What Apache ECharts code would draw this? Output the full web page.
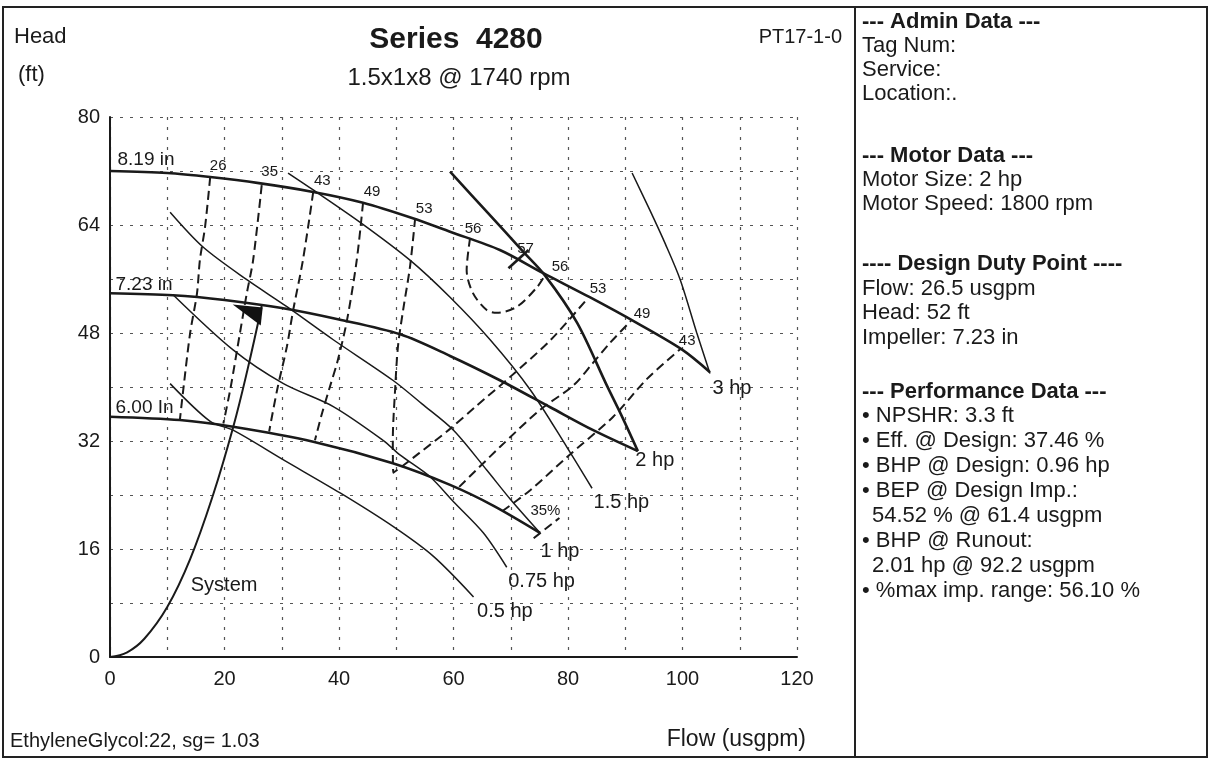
<!DOCTYPE html>
<html><head><meta charset="utf-8">
<script src="https://cdn.jsdelivr.net/npm/echarts@6/dist/echarts.min.js"></script>
<style>html,body{margin:0;padding:0;background:#fff}#c{width:1210px;height:761px}</style>
</head><body><div id="c"></div>
<script>
// ---- tick labels ----
const flowTickLabels = [0, 20, 40, 60, 80, 100, 120];
const headTickLabels = [0, 16, 32, 48, 64, 80];

// ---- impeller curves (flow usgpm, head ft) ----
const imp819 = [[0,72],[10,71.7],[17.5,71.1],[26,70.2],[35.5,68.9],[44.2,67.3],[52.9,65],[59.4,63],[68.1,60.3],[75.6,56.9],[83.8,53.3],[92,49.5],[100,45.5],[104.8,42.2]];
const imp723 = [[0,53.9],[11,53.6],[20,52.9],[30,51.7],[40,50],[50.7,47.8],[59.4,44.6],[68.1,41],[76.9,37],[84.4,33.6],[92.2,30.5]];
const imp600 = [[0,35.6],[12.2,35.1],[21.5,34.1],[35.5,31.9],[49.4,28.7],[59.4,25.5],[67,22.4],[75.1,18.4]];

// ---- system curve and design point ----
const systemCurve = [[0,0],[3,0.7],[6,2.7],[10,7.4],[14,14.5],[18,24],[21.5,34],[24,42.5],[26.5,52]];
const designPoint = [26.5, 52];

// ---- power (BHP) curves ----
const hp05 = [[10.5,40.5],[17.5,34.9],[21.5,33.6],[30.3,29.2],[40.2,24.3],[49.5,19.3],[56.5,14.9],[63.5,8.9]];
const hp075 = [[11.1,53.6],[21.5,45.5],[30.3,40.5],[39,37.1],[47.7,32.1],[50.7,29.9],[55.9,26.7],[60,23],[65.2,18.4],[69.3,13.3]];
const hp1 = [[10.5,65.9],[16.3,60.7],[23.9,55.9],[30.9,51.9],[39,47],[49.4,41],[54.5,37.5],[60,33.6],[65.8,27.7],[70,23.3],[75.1,18.4]];
const hp15 = [[31.1,71.7],[35.5,69.2],[43.7,64.4],[52.4,58.8],[59.4,53.3],[66.4,47],[73.4,39.6],[79.8,31.1],[84.2,25]];
const hp2 = [[59.4,71.9],[66,65.8],[72,60.2],[76,56.5],[81.6,49.5],[86.8,40.2],[89.5,35.5],[92.2,30.5]];
const hp3 = [[91.2,71.7],[94.3,66.2],[97,61.2],[99.6,55.9],[102.5,48],[104.8,42]];

// ---- efficiency contours (%) ----
const eff26 = [[17.5,71.1],[16.6,63.7],[15.7,58.8],[15.2,53.9],[14,48],[12.8,39.6],[12.2,35.1]];
const eff35 = [[26.5,69.9],[25,58.8],[23.9,53.9],[22.7,48],[21,39.6],[19.8,34.6]];
const eff43 = [[35.5,68.9],[33.7,58.8],[32,51.4],[30.9,46],[29.2,39.6],[27.8,33.4]];
const eff49 = [[44.2,67.3],[43.1,58.8],[41.4,49.9],[39.8,44],[38.4,40],[37,36],[35.8,32.1]];
const eff53 = [[53.3,65],[52.4,57.8],[51.2,51.4],[50.3,46],[49.8,39.6],[49.4,32.1],[49.5,27.3],[54,30.2],[59.4,33.8],[64,37.2],[69.9,41.5],[77,47],[83.5,53.2]];
const eff56 = [[62.9,62.1],[62.3,57.3],[63.4,53.9],[65.8,51.4],[67.6,51],[71.1,51.9],[74.6,54.8],[76,56.6]];
const eff57 = [[69.6,57.6],[73.1,60.3]];
const eff49R = [[61,25.2],[68.1,31.1],[75.1,36.6],[80.9,40.2],[84.4,43.6],[87.3,46.5],[91,49.8]];
const eff43R = [[68.5,21.6],[73.4,24.7],[79.8,29.6],[87.9,35.6],[93.8,41.2],[99.6,45.6]];
const eff35R = [[74,17.6],[78.5,20.6]];

// ---- side panel text ----
const panelText = ['--- Admin Data ---','Tag Num:','Service:','Location:.','--- Motor Data ---','Motor Size: 2 hp','Motor Speed: 1800 rpm','---- Design Duty Point ----','Flow: 26.5 usgpm','Head: 52 ft','Impeller: 7.23 in','--- Performance Data ---','• NPSHR: 3.3 ft','• Eff. @ Design: 37.46 %','• BHP @ Design: 0.96 hp','• BEP @ Design Imp.:','54.52 % @ 61.4 usgpm','• BHP @ Runout:','2.01 hp @ 92.2 usgpm','• %max imp. range: 56.10 %'];

const FONT = '"Liberation Sans", Arial, sans-serif';
const INK = '#1a1a1a';

function curve(pts, opt) {
  const data = pts.map(p => [p[0], p[1]]);
  (opt.labels || []).forEach(l => {
    const i = l.at === 'end' ? data.length - 1 : l.at;
    data[i] = {
      value: data[i], symbol: 'circle', symbolSize: 1,
      itemStyle: {color: 'rgba(0,0,0,0)'},
      label: {show: true, formatter: l.text, position: l.pos || 'right', offset: l.off || [0,0],
        fontSize: l.fs || 15, color: INK, fontFamily: FONT, fontWeight: l.fw || 'normal'}
    };
  });
  return {
    type: 'line', data, smooth: opt.smooth === undefined ? 0.3 : opt.smooth,
    symbol: 'none', silent: true, animation: false, z: opt.z || 3,
    lineStyle: {color: INK, width: opt.w || 1.5, type: opt.dash ? [9,5] : 'solid'},
    markPoint: opt.markPoint
  };
}

const series = [
  curve(imp819, {w: 2.6, labels: [{text: '8.19 in', at: 0, off: [2,-11], fs: 19}]}),
  curve(imp723, {w: 2.6, labels: [{text: '7.23 in', at: 0, off: [0,-8], fs: 19}]}),
  curve(imp600, {w: 2.6, labels: [{text: '6.00 In', at: 0, off: [0,-9], fs: 19}]}),
  curve(systemCurve, {w: 2, smooth: 0.4, labels: [{text: 'System', at: 3, off: [18,-22], fs: 20}],
    markPoint: {silent: true, animation: false, label: {show: false},
      data: [{coord: designPoint, symbol: 'path://M0,0 L30,3 L28,21 Z', symbolSize: [30,21], symbolOffset: [-14,9], itemStyle: {color: '#111'}}]}}),
  curve(hp05, {w: 1.5, labels: [{text: '0.5 hp', at: 'end', off: [-2,15], fs: 20}]}),
  curve(hp075, {w: 1.5, labels: [{text: '0.75 hp', at: 'end', off: [-4,14], fs: 20}]}),
  curve(hp1, {w: 1.5, labels: [{text: '1 hp', at: 'end', off: [-5,19], fs: 20}]}),
  curve(hp15, {w: 1.5, labels: [{text: '1.5 hp', at: 'end', off: [-4,14], fs: 20}]}),
  curve(hp2, {w: 2.6, labels: [{text: '2 hp', at: 'end', off: [-8,9], fs: 20}]}),
  curve(hp3, {w: 1.5, labels: [{text: '3 hp', at: 'end', off: [-3,15], fs: 20}]}),
  curve(eff26, {w: 2, dash: true, labels: [{text: '26', at: 0, pos: 'top', off: [8,2]}]}),
  curve(eff35, {w: 2, dash: true, labels: [{text: '35', at: 0, pos: 'top', off: [8,0]}]}),
  curve(eff43, {w: 2, dash: true, labels: [{text: '43', at: 0, pos: 'top', off: [9,2]}]}),
  curve(eff49, {w: 2, dash: true, labels: [{text: '49', at: 0, pos: 'top', off: [9,2]}]}),
  curve(eff53, {w: 2, dash: true, labels: [{text: '53', at: 0, pos: 'top', off: [9,4]}, {text: '53', at: 'end', pos: 'top', off: [10,4]}]}),
  curve(eff56, {w: 2, dash: true, labels: [{text: '56', at: 0, pos: 'top', off: [3,4]}, {text: '56', at: 'end', pos: 'top', off: [15,5]}]}),
  curve(eff57, {w: 2.6, smooth: false, labels: [{text: '57', at: 'end', pos: 'top', off: [-3,12]}]}),
  curve(eff49R, {w: 2, dash: true, labels: [{text: '49', at: 'end', pos: 'top', off: [11,6]}]}),
  curve(eff43R, {w: 2, dash: true, labels: [{text: '43', at: 'end', pos: 'top', off: [7,5]}]}),
  curve(eff35R, {w: 2, dash: true, smooth: false, labels: [{text: '35%', at: 'end', pos: 'top', off: [-14,6]}]})
];

const graphic = [
  {type: 'rect', shape: {x: 3, y: 7, width: 1204, height: 750}, style: {fill: 'none', stroke: '#222', lineWidth: 2}, silent: true},
  {type: 'line', shape: {x1: 855, y1: 7, x2: 855, y2: 757}, style: {stroke: '#222', lineWidth: 2}, silent: true},
  {type: 'text', x: 14, y: 37, style: {text: 'Head', font: '22px ' + FONT, fill: INK, textVerticalAlign: 'middle'}},
  {type: 'text', x: 18, y: 75, style: {text: '(ft)', font: '22px ' + FONT, fill: INK, textVerticalAlign: 'middle'}},
  {type: 'text', x: 456, y: 40, style: {text: 'Series  4280', font: 'bold 30px ' + FONT, fill: INK, textAlign: 'center', textVerticalAlign: 'middle'}},
  {type: 'text', x: 459, y: 78, style: {text: '1.5x1x8 @ 1740 rpm', font: '24px ' + FONT, fill: INK, textAlign: 'center', textVerticalAlign: 'middle'}},
  {type: 'text', x: 842, y: 37, style: {text: 'PT17-1-0', font: '20px ' + FONT, fill: INK, textAlign: 'right', textVerticalAlign: 'middle'}},
  {type: 'text', x: 10, y: 741, style: {text: 'EthyleneGlycol:22, sg= 1.03', font: '20px ' + FONT, fill: INK, textVerticalAlign: 'middle'}},
  {type: 'text', x: 806, y: 740, style: {text: 'Flow (usgpm)', font: '23px ' + FONT, fill: INK, textAlign: 'right', textVerticalAlign: 'middle'}}
];
const panelY = [22,46,70,94,156,180,204,264,289,313,338,392,416,441,466,491,516,541,566,591];
const panelBold = [0,4,7,11];
const panelIndent = [16,18];
panelText.forEach((t, i) => {
  graphic.push({type: 'text', x: panelIndent.includes(i) ? 872 : 862, y: panelY[i],
    style: {text: t, font: (panelBold.includes(i) ? 'bold ' : '') + '22px ' + FONT, fill: INK, textVerticalAlign: 'middle'}});
});

const chart = echarts.init(document.getElementById('c'), null, {renderer: 'canvas'});
chart.setOption({
  backgroundColor: '#fff',
  animation: false,
  grid: {left: 110, right: 413, top: 117, bottom: 104, containLabel: false},
  xAxis: {type: 'value', min: 0, max: 120, interval: 10,
    axisLine: {show: true, lineStyle: {color: INK, width: 2}},
    axisTick: {show: false},
    axisLabel: {color: INK, fontSize: 20, fontFamily: FONT, margin: 12, formatter: v => flowTickLabels.includes(v) ? String(v) : ''},
    splitLine: {show: true, lineStyle: {color: '#555', width: 1.2, type: [3,7]}}},
  yAxis: {type: 'value', min: 0, max: 80, interval: 8,
    axisLine: {show: true, lineStyle: {color: INK, width: 2}},
    axisTick: {show: false},
    axisLabel: {color: INK, fontSize: 20, fontFamily: FONT, margin: 10, formatter: v => headTickLabels.includes(v) ? String(v) : ''},
    splitLine: {show: true, lineStyle: {color: '#555', width: 1.2, type: [3,7]}}},
  series,
  graphic
});
</script></body></html>
